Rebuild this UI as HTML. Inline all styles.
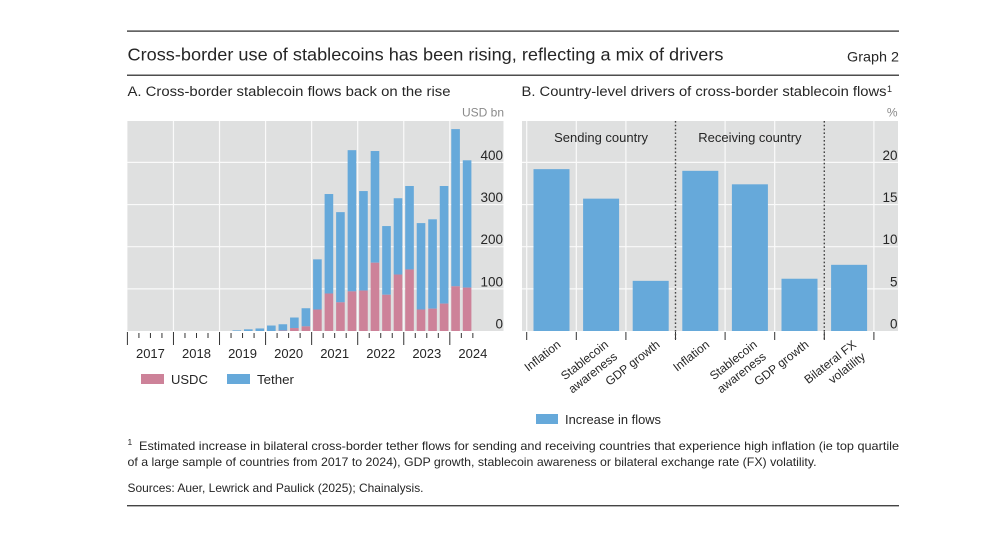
<!DOCTYPE html>
<html lang="en">
<head>
<meta charset="utf-8">
<title>Cross-border use of stablecoins</title>
<style>
html,body{margin:0;padding:0;background:#fff;}
body{width:994px;height:539px;overflow:hidden;}
svg{display:block;font-family:"Liberation Sans",sans-serif;fill:#262626;}
</style>
</head>
<body>
<svg id="figure" width="994" height="539" viewBox="0 0 994 539" xmlns="http://www.w3.org/2000/svg">
  <rect x="127" y="30.5" width="772" height="1.2" fill="#222"/>
  <rect x="127" y="74.6" width="772" height="1.2" fill="#222"/>
  <rect x="127" y="505" width="772" height="1.4" fill="#444"/>
  <text x="127.5" y="60.5" font-size="17.5" textLength="596" lengthAdjust="spacingAndGlyphs">Cross-border use of stablecoins has been rising, reflecting a mix of drivers</text>
  <text x="847" y="61.5" font-size="14" textLength="52" lengthAdjust="spacingAndGlyphs">Graph 2</text>
  <text x="127.5" y="96" font-size="13.5" textLength="323" lengthAdjust="spacingAndGlyphs">A. Cross-border stablecoin flows back on the rise</text>
  <text x="521.5" y="96" font-size="13.5" textLength="365" lengthAdjust="spacingAndGlyphs">B. Country-level drivers of cross-border stablecoin flows</text>
  <text x="887" y="92" font-size="9">1</text>
  <text x="504" y="116.5" font-size="12" text-anchor="end" style="fill:#8a8a8a">USD bn</text>
  <text x="897.5" y="116.5" font-size="12" text-anchor="end" style="fill:#8a8a8a">%</text>

  <g id="panelA"></g>
  <g id="panelB"></g>

  <g>
    <rect x="141" y="374" width="23" height="10" fill="#cd8299"/>
    <text x="171" y="384" font-size="13">USDC</text>
    <rect x="227" y="374" width="23" height="10" fill="#66a9da"/>
    <text x="257" y="384" font-size="13" textLength="37" lengthAdjust="spacingAndGlyphs">Tether</text>
  </g>
  <g>
    <rect x="536" y="414" width="22" height="10" fill="#66a9da"/>
    <text x="565" y="424" font-size="13" textLength="96" lengthAdjust="spacingAndGlyphs">Increase in flows</text>
  </g>

  <text x="127.5" y="445" font-size="8.5">1</text>
  <text x="139" y="450" font-size="12" textLength="760" lengthAdjust="spacingAndGlyphs">Estimated increase in bilateral cross-border tether flows for sending and receiving countries that experience high inflation (ie top quartile</text>
  <text x="127.5" y="466" font-size="12" textLength="689" lengthAdjust="spacingAndGlyphs">of a large sample of countries from 2017 to 2024), GDP growth, stablecoin awareness or bilateral exchange rate (FX) volatility.</text>
  <text x="127.5" y="492" font-size="12" textLength="296" lengthAdjust="spacingAndGlyphs">Sources: Auer, Lewrick and Paulick (2025); Chainalysis.</text>
</svg>
<script>
// Panel A data: quarterly flows, USD bn (2017 Q1 to 2024 Q2)
const yearLabels = ['2017','2018','2019','2020','2021','2022','2023','2024'];
const flowTicks = [0,100,200,300,400];
const usdcValues = [0,0,0,0,0,0,0,0,0,0,0,0,0,1,7,11,51,89,68,94,96,162,86,134,146,51,53,65,106,103];
const totalValues = [0,0,0,0,0,0,0,0,0,1.5,4,6,13,16,32,54,170,325,282,429,332,427,249,315,344,256,265,344,479,405];

// Panel B data: increase in flows, %
const driverLabels = [['Inflation'],['Stablecoin','awareness'],['GDP growth'],['Inflation'],['Stablecoin','awareness'],['GDP growth'],['Bilateral FX','volatility']];
const driverValues = [19.2,15.7,5.95,19.0,17.4,6.2,7.85];
const driverTicks = [0,5,10,15,20];
const groupLabels = ['Sending country','Receiving country'];

const NS = 'http://www.w3.org/2000/svg';
const GREY = '#dfe0e0', BLUE = '#66a9da', PINK = '#cd8299', WHITE = '#fafafa', TICK = '#333';
const TOP = 121, BASE = 331;

function mk(tag, attrs, parent, content) {
  const el = document.createElementNS(NS, tag);
  for (const k in attrs) el.setAttribute(k, attrs[k]);
  if (content !== undefined) el.textContent = content;
  parent.appendChild(el);
  return el;
}

/* ---------- Panel A ---------- */
const gA = document.getElementById('panelA');
const aLeft = 127.4, aRight = 503.5;
const quarterW = 11.515;
const xA = q => aLeft + q * quarterW;
const yA = v => BASE - v * 0.4215;

let bgA = mk('rect', {x: aLeft, y: TOP, width: aRight - aLeft, height: BASE - TOP, fill: GREY}, gA);



flowTicks.forEach(t => {
  if (t > 0) {
    const line = mk('line', {x1: aLeft, x2: aRight, y1: yA(t), y2: yA(t), stroke: WHITE, 'stroke-width': 1.2}, gA);
    
    
  }
  const label = mk('text', {x: 503, y: yA(t) - 2.5, 'font-size': 13.5, 'text-anchor': 'end'}, gA, String(t));
  
  
});

yearLabels.forEach((yr, i) => {
  if (i > 0) {
    const line = mk('line', {x1: xA(i * 4), x2: xA(i * 4), y1: TOP, y2: BASE, stroke: WHITE, 'stroke-width': 1.2}, gA);
    
    
  }
  const label = mk('text', {x: xA(i * 4 + 2), y: 358, 'font-size': 13, 'text-anchor': 'middle'}, gA, yr);
  
  
});

totalValues.forEach((total, q) => {
  const bx = xA(q) + 1.45, bw = quarterW - 2.9;
  const usdc = usdcValues[q];
  if (total > usdc) {
    const tether = mk('rect', {x: bx, y: yA(total), width: bw, height: yA(usdc) - yA(total), fill: BLUE}, gA);
    
    
  }
  if (usdc > 0) {
    const u = mk('rect', {x: bx, y: yA(usdc), width: bw, height: BASE - yA(usdc), fill: PINK}, gA);
    
    
  }
});

for (let q = 0; q <= totalValues.length; q++) {
  const major = q % 4 === 0;
  const tick = mk('line', {x1: xA(q), x2: xA(q), y1: major ? 332 : 333, y2: major ? 345 : 338, stroke: TICK, 'stroke-width': 1}, gA);
  
  
}

/* ---------- Panel B ---------- */
const gB = document.getElementById('panelB');
const bLeft = 522, bRight = 898;
const slotW = 49.6, bFirst = 526.7;
const xB = i => bFirst + i * slotW;
const yB = v => BASE - v * 8.43;

let bgB = mk('rect', {x: bLeft, y: TOP, width: bRight - bLeft, height: BASE - TOP, fill: GREY}, gB);



driverTicks.forEach(t => {
  if (t > 0) {
    const line = mk('line', {x1: bLeft, x2: bRight, y1: yB(t), y2: yB(t), stroke: WHITE, 'stroke-width': 1.2}, gB);
    
    
  }
  const label = mk('text', {x: 897.5, y: yB(t) - 2.5, 'font-size': 13.5, 'text-anchor': 'end'}, gB, String(t));
  
  
});

for (let i = 0; i <= driverValues.length; i++) {
  const divider = i === 3 || i === 6;
  if (!divider) {
    const line = mk('line', {x1: xB(i), x2: xB(i), y1: TOP, y2: BASE, stroke: WHITE, 'stroke-width': 1.2}, gB);
    
    
  }
  const tick = mk('line', {x1: xB(i), x2: xB(i), y1: 332, y2: 340, stroke: TICK, 'stroke-width': 1}, gB);
  
  
}

driverValues.forEach((v, i) => {
  const bar = mk('rect', {x: xB(i) + 6.8, y: yB(v), width: 36, height: BASE - yB(v), fill: BLUE}, gB);
  
  

  const cx = xB(i) + slotW / 2;
  const lines = driverLabels[i];
  lines.forEach((txt, n) => {
    const ex = cx + (lines.length > 1 ? 8 + n * 9 : 10);
    const ey = lines.length > 1 ? 346 + n * 12 : 346;
    const t = mk('text', {x: ex, y: ey, 'font-size': 12, 'text-anchor': 'end', transform: 'rotate(-38 ' + ex + ' ' + ey + ')'}, gB, txt);
    
    
  });
});

[3, 6].forEach(i => {
  const d = mk('line', {x1: xB(i), x2: xB(i), y1: TOP, y2: 340, stroke: '#444', 'stroke-width': 1.4, 'stroke-dasharray': '1.6 2.2'}, gB);
  
  
});

groupLabels.forEach((txt, g) => {
  const t = mk('text', {x: xB(g * 3 + 1.5), y: 142, 'font-size': 13, 'text-anchor': 'middle'}, gB, txt);
  
  
});
</script>
</body>
</html>
